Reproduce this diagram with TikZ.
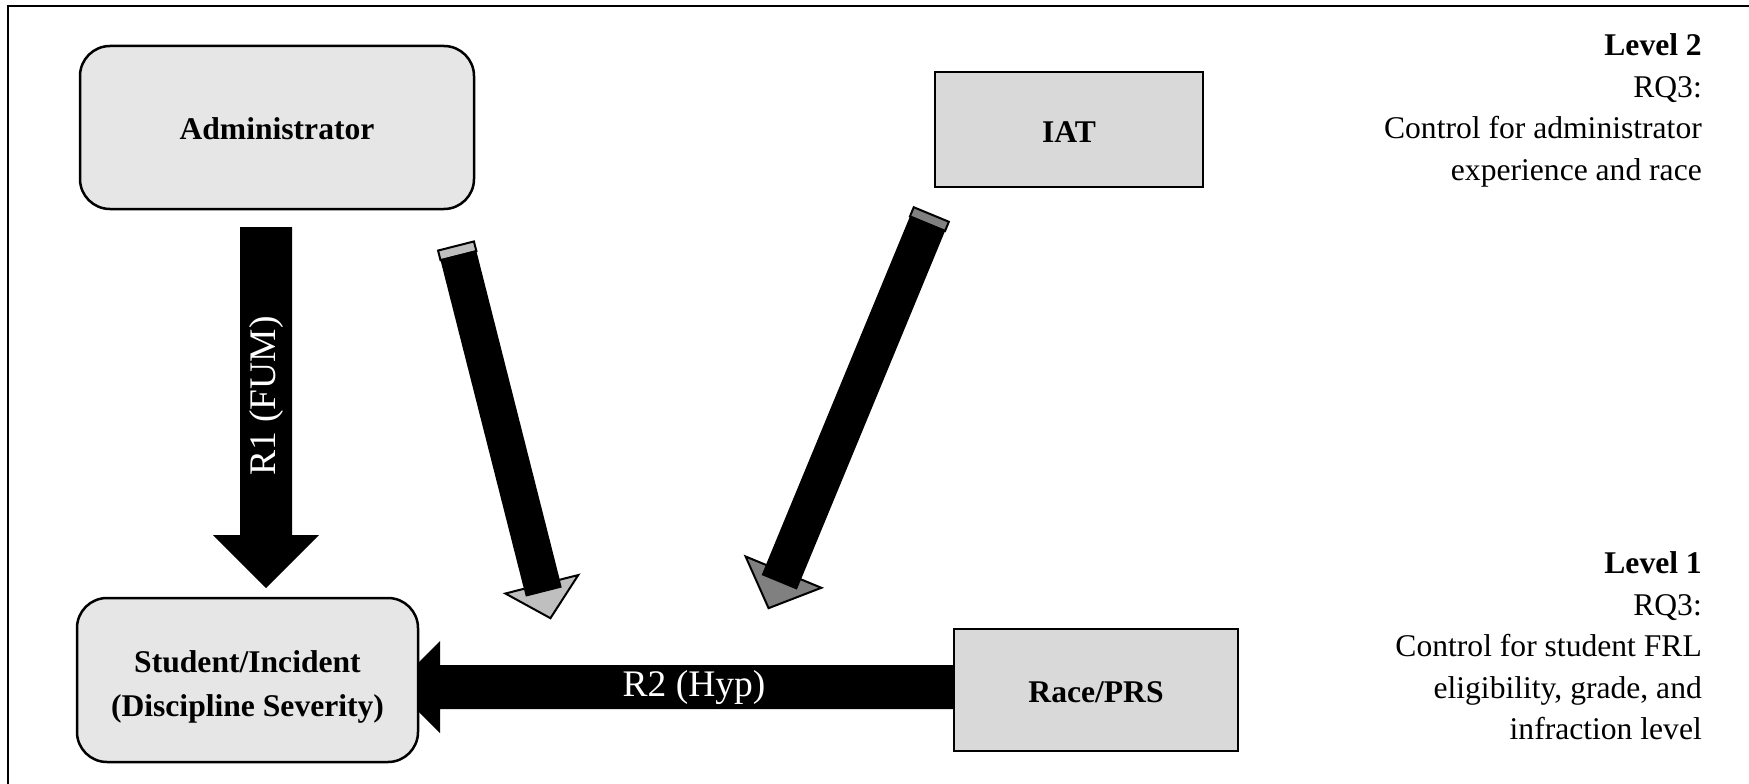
\documentclass[tikz,border=0pt]{standalone}
\usepackage{fontspec}
\setmainfont{Liberation Serif}
\definecolor{boxA}{RGB}{230,230,230}
\definecolor{boxB}{RGB}{217,217,217}
\definecolor{capA}{RGB}{191,191,191}
\definecolor{capB}{RGB}{128,128,128}
\begin{document}
\begin{tikzpicture}[x=1pt,y=-1pt,
  box/.style={draw=black, line width=2.5pt, align=center, inner sep=0pt,
    font=\fontsize{31.6}{44}\selectfont\bfseries},
  rbox/.style={box, fill=boxA, rounded corners=30pt},
  sbox/.style={box, fill=boxB},
  side/.style={align=right, inner sep=0pt, anchor=north east,
    font=\fontsize{31.6}{41.5}\selectfont},
  lbl/.style={text=white, inner sep=0pt, font=\fontsize{37.5}{42}\selectfont},
  tipline/.style={draw=black, line width=2pt}
]
\useasboundingbox (0,0) rectangle (1749,784);
\draw[line width=2.5pt] (8,784) -- (8,6) -- (1749,6);

% R1 vertical block arrow
\fill[black] (240,227) -- (292,227) -- (292,535) -- (319,535) -- (266,588)
  -- (213,535) -- (240,535) -- cycle;
\node[lbl, rotate=90] (r1) at (266,396) {R1 (FUM)};

% R2 horizontal block arrow
\fill[black] (954,665) -- (440,665) -- (440,641) -- (394,687) -- (440,733)
  -- (440,709) -- (954,709) -- cycle;
\node[lbl] (r2) at (694,688) {R2 (Hyp)};

% diagonal arrow from Administrator
\begin{scope}[shift={(456,246)}, rotate=14.24]
  \filldraw[tipline, fill=capA] (-37.6,349) -- (37.6,349) -- (0,384) -- cycle;
  \filldraw[tipline, fill=capA] (-18.5,0) rectangle (18.5,10);
  \fill[black] (-18.5,9) rectangle (18.5,357);
\end{scope}

% diagonal arrow from IAT
\begin{scope}[shift={(931.3,214.5)}, rotate=-22.46]
  \filldraw[tipline, fill=capB] (-41,387) -- (41,387) -- (0,426) -- cycle;
  \filldraw[tipline, fill=capB] (-19,0) rectangle (19,10);
  \fill[black] (-19,9) rectangle (19,398);
\end{scope}

% boxes
\node[rbox, minimum width=394pt, minimum height=163pt] (adm) at (277,127.5) {\rule{0pt}{25pt}Administrator};
\node[sbox, minimum width=268pt, minimum height=115pt] (iat) at (1069,129.5) {\rule{0pt}{25pt}IAT};
\node[rbox, minimum width=341pt, minimum height=164pt] (stu) at (247.5,680) {\rule{0pt}{36pt}Student/Incident\\(Discipline Severity)};
\node[sbox, minimum width=284pt, minimum height=122pt] (race) at (1096,690) {\rule{0pt}{25pt}Race/PRS};

% side texts
\node[side] (lv2) at (1702,33.5) {\textbf{Level 2}\\RQ3:\\Control for administrator\\experience and race};
\node[side] (lv1) at (1702,551.5) {\textbf{Level 1}\\RQ3:\\Control for student FRL\\eligibility, grade, and\\infraction level};
\end{tikzpicture}
\end{document}
